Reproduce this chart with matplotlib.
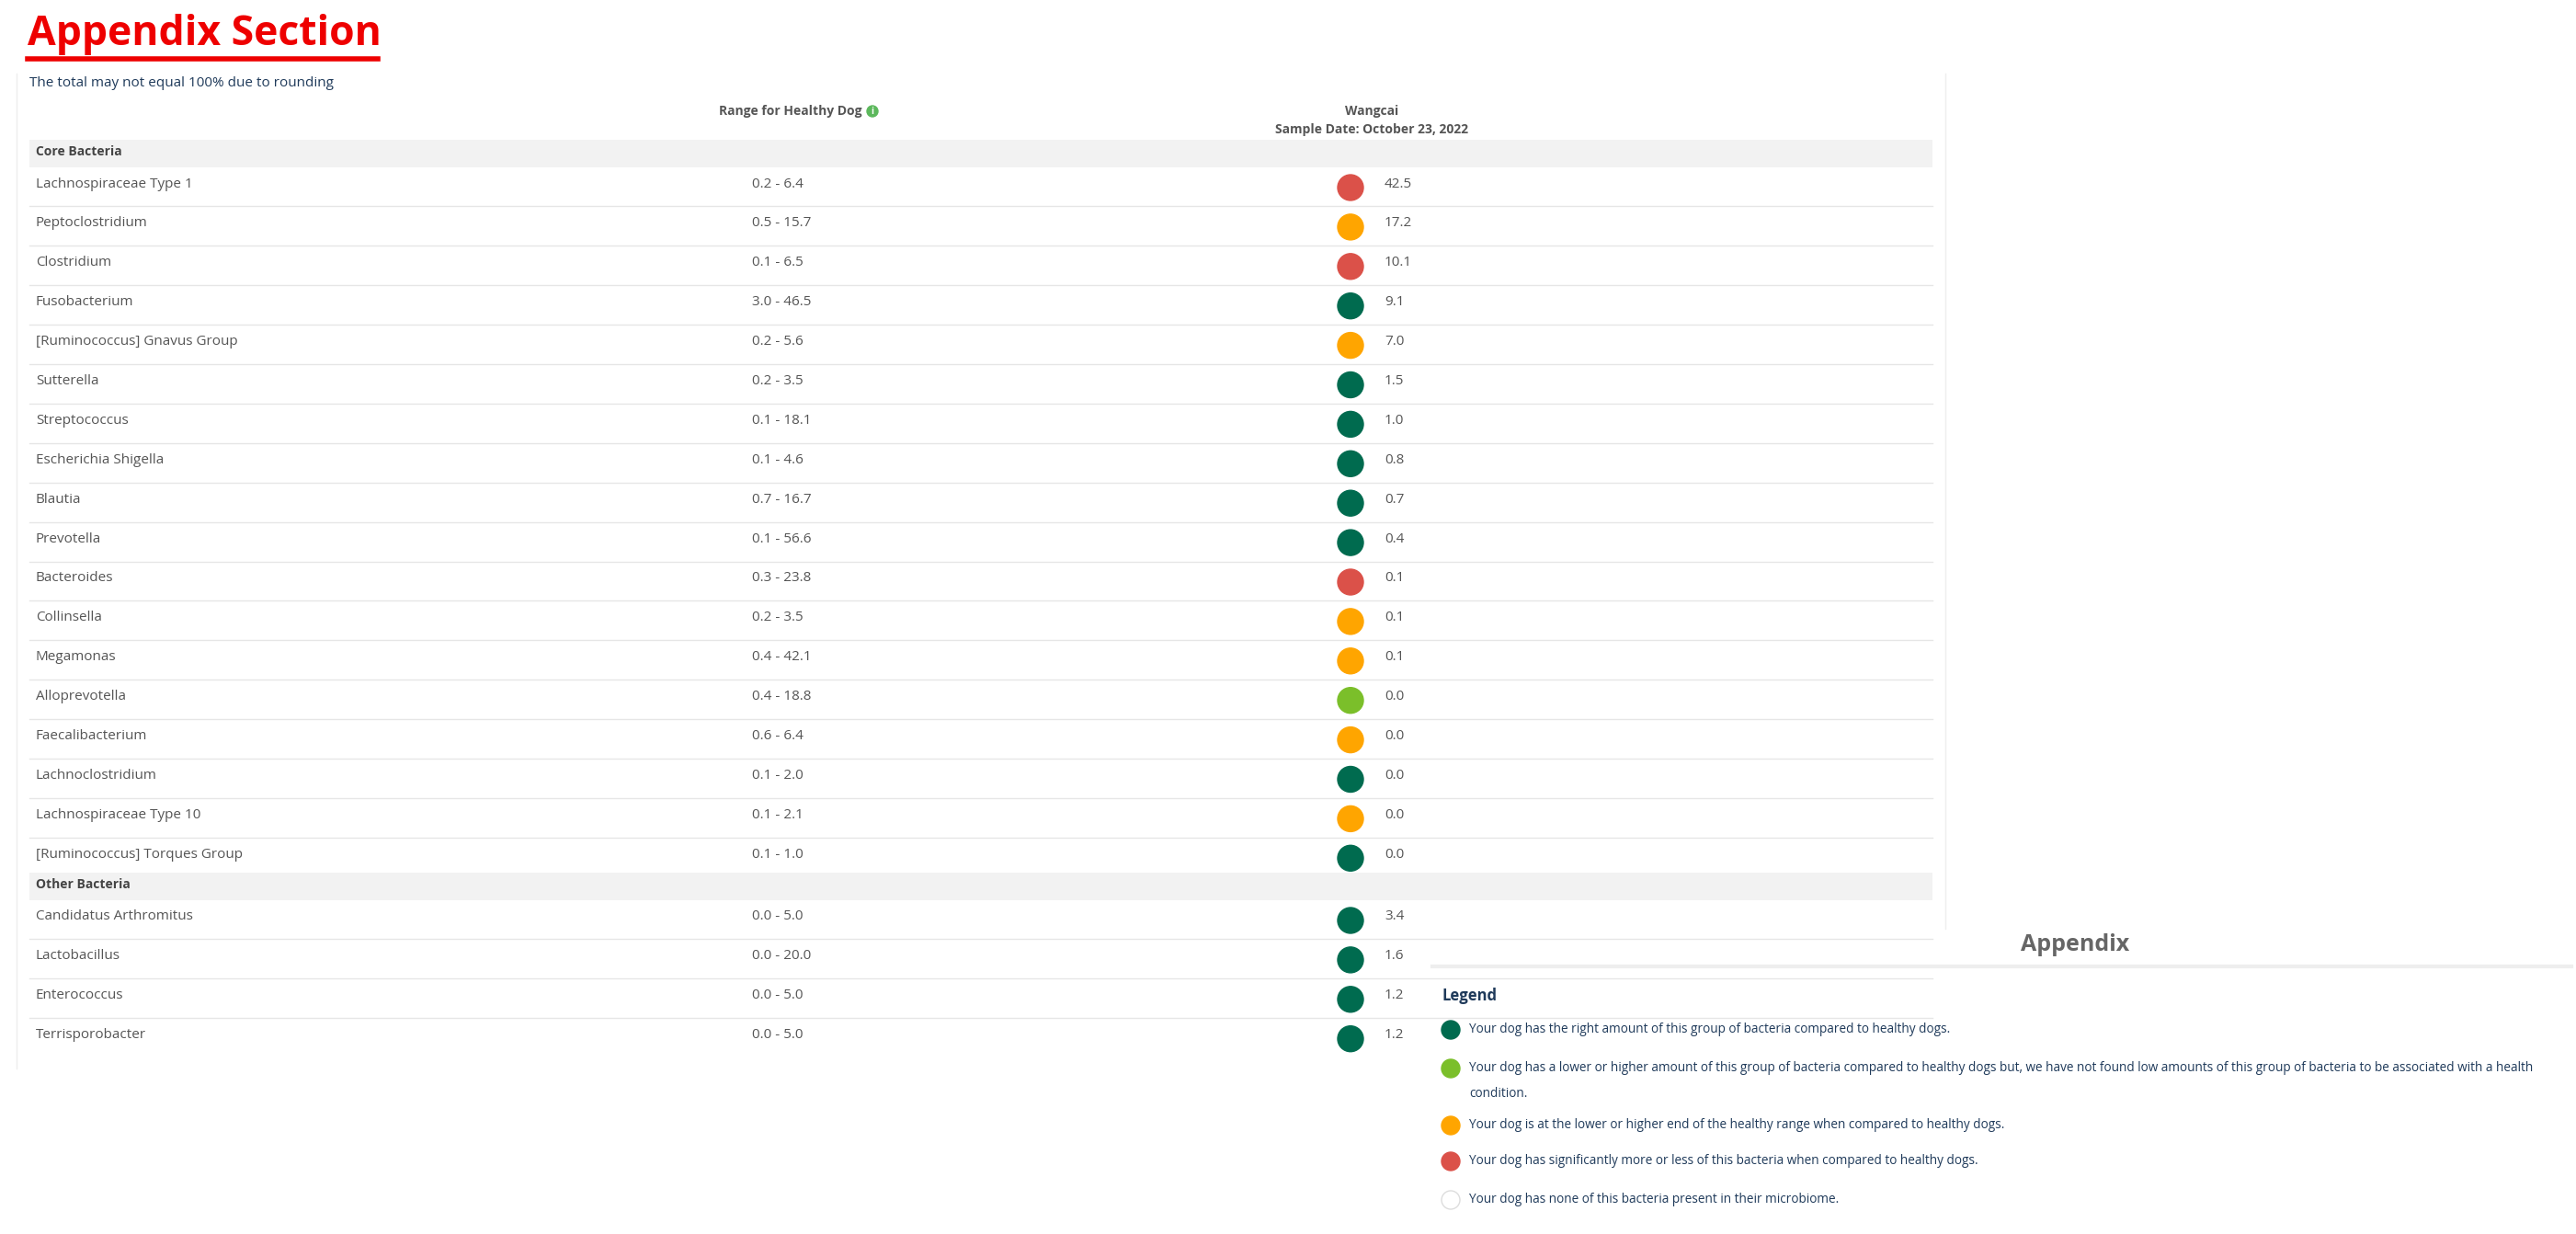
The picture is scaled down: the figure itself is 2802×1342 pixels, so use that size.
import matplotlib.pyplot as plt
from matplotlib.patches import Circle, Rectangle

plt.rcParams['font.family'] = ['Open Sans', 'DejaVu Sans']

core_names = ["Lachnospiraceae Type 1", "Peptoclostridium", "Clostridium", "Fusobacterium",
              "[Ruminococcus] Gnavus Group", "Sutterella", "Streptococcus", "Escherichia Shigella",
              "Blautia", "Prevotella", "Bacteroides", "Collinsella", "Megamonas", "Alloprevotella",
              "Faecalibacterium", "Lachnoclostridium", "Lachnospiraceae Type 10",
              "[Ruminococcus] Torques Group"]
core_ranges = ["0.2 - 6.4", "0.5 - 15.7", "0.1 - 6.5", "3.0 - 46.5", "0.2 - 5.6", "0.2 - 3.5",
               "0.1 - 18.1", "0.1 - 4.6", "0.7 - 16.7", "0.1 - 56.6", "0.3 - 23.8", "0.2 - 3.5",
               "0.4 - 42.1", "0.4 - 18.8", "0.6 - 6.4", "0.1 - 2.0", "0.1 - 2.1", "0.1 - 1.0"]
core_values = [42.5, 17.2, 10.1, 9.1, 7.0, 1.5, 1.0, 0.8, 0.7, 0.4, 0.1, 0.1, 0.1, 0.0, 0.0, 0.0, 0.0, 0.0]
core_status = ["red", "orange", "red", "dark", "orange", "dark", "dark", "dark", "dark", "dark",
               "red", "orange", "orange", "light", "orange", "dark", "orange", "dark"]

other_names = ["Candidatus Arthromitus", "Lactobacillus", "Enterococcus", "Terrisporobacter"]
other_ranges = ["0.0 - 5.0", "0.0 - 20.0", "0.0 - 5.0", "0.0 - 5.0"]
other_values = [3.4, 1.6, 1.2, 1.2]
other_status = ["dark", "dark", "dark", "dark"]

legend_status = ["dark", "light", "orange", "red", "none"]
legend_text = ["Your dog has the right amount of this group of bacteria compared to healthy dogs.",
               "Your dog has a lower or higher amount of this group of bacteria compared to healthy dogs but, we have not found low amounts of this group of bacteria to be associated with a health\ncondition.",
               "Your dog is at the lower or higher end of the healthy range when compared to healthy dogs.",
               "Your dog has significantly more or less of this bacteria when compared to healthy dogs.",
               "Your dog has none of this bacteria present in their microbiome."]

colors = {"dark": "#006b4f", "light": "#7bbf2a", "orange": "#ffa500", "red": "#db5149", "none": "white"}
TXT = "#555555"
NAVY = "#1f3a5a"

fig = plt.figure(figsize=(28.02, 13.42), dpi=100)
ax = fig.add_axes([0, 0, 1, 1])
ax.set_xlim(0, 2802)
ax.set_ylim(1342, 0)
ax.axis('off')

ax.text(30, 38, "Appendix Section", color="#ee0000", fontsize=32, fontweight='bold', va='center')
ax.plot([30, 411], [64, 64], color="#ee0000", lw=4)

ax.plot([18, 18], [80, 1162], color="#eeeeee", lw=1)
ax.plot([2116, 2116], [80, 1010], color="#eeeeee", lw=1)

ax.text(32, 91, "The total may not equal 100% due to rounding", color=NAVY, fontsize=11, va='center')
ax.text(937, 121, "Range for Healthy Dog", color=TXT, fontsize=10, fontweight='bold', ha='right', va='center')
ax.add_patch(Circle((949, 121), 6, color="#5cb85c"))
ax.text(949, 121, "i", color="white", fontsize=7, fontweight='bold', ha='center', va='center')
ax.text(1492, 121, "Wangcai", color=TXT, fontsize=10, fontweight='bold', ha='center', va='center')
ax.text(1492, 141, "Sample Date: October 23, 2022", color=TXT, fontsize=10, fontweight='bold', ha='center', va='center')

step = 42.9


def section(title, y_band, rows_names, rows_ranges, rows_values, rows_status):
    ax.add_patch(Rectangle((32, y_band), 2070, 30, color="#f2f2f2", lw=0))
    ax.text(39, y_band + 13, title, color="#444444", fontsize=10, fontweight='bold', va='center')
    y0 = y_band + 48
    for i, (n, r, v, s) in enumerate(zip(rows_names, rows_ranges, rows_values, rows_status)):
        y = y0 + step * i
        ax.text(39, y, n, color=TXT, fontsize=11, va='center')
        ax.text(818, y, r, color=TXT, fontsize=11, va='center')
        ax.add_patch(Circle((1469, y + 4), 14, color=colors[s]))
        ax.text(1506, y, f"{v:.1f}", color=TXT, fontsize=11, va='center')
        if i < len(rows_names) - 1:
            ax.plot([32, 2102], [y + step / 2 + 3] * 2, color="#e6e6e6", lw=1)


section("Core Bacteria", 152, core_names, core_ranges, core_values, core_status)
section("Other Bacteria", 949, other_names, other_ranges, other_values, other_status)

ax.text(2257, 1028, "Appendix", color="#666666", fontsize=18, fontweight='bold', ha='center', va='center')
ax.plot([1558, 2797], [1051, 1051], color="#eeeeee", lw=3)
ax.text(1569, 1083, "Legend", color=NAVY, fontsize=12, fontweight='bold', va='center')
legend_y = [1120, 1162, 1224, 1263, 1305]
for y, s, txt in zip(legend_y, legend_status, legend_text):
    ax.add_patch(Circle((1578, y), 10, facecolor=colors[s], edgecolor="#dddddd" if s == "none" else colors[s], lw=1))
    ax.text(1598, y - 8, txt, color=NAVY, fontsize=9.8, va='top', linespacing=2.2)

fig.savefig("out.png", dpi=100)
